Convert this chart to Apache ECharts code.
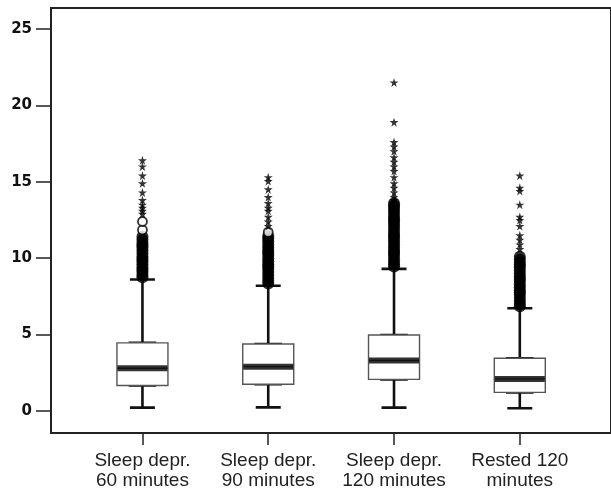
<!DOCTYPE html>
<html>
<head>
<meta charset="utf-8">
<script src="https://cdn.jsdelivr.net/npm/echarts@6/dist/echarts.min.js"></script>
<style>
  html, body { margin: 0; padding: 0; background: #fff; }
  #main { width: 611px; height: 492px; }
</style>
</head>
<body>
<div id="main"></div>
<script>
// groups along the x axis
var categories = ['Sleep depr.\n60 minutes', 'Sleep depr.\n90 minutes', 'Sleep depr.\n120 minutes', 'Rested 120\nminutes']
var yTicks = [0, 5, 10, 15, 20, 25]

// [min, Q1, median, Q3, max]
var boxStats = [
  [0.22, 1.67, 2.8, 4.46, 8.6],
  [0.24, 1.75, 2.9, 4.38, 8.2],
  [0.22, 2.07, 3.3, 4.97, 9.3],
  [0.18, 1.22, 2.1, 3.45, 6.72]
]

// dense outliers (drawn as a solid column of circles)
var denseOutliers = [
  [8.75, 8.9, 9.1, 9.25, 9.4, 9.6, 9.8, 9.95, 10.1, 10.3, 10.5, 10.7, 10.85, 11.0, 11.2, 11.4],
  [8.35, 8.5, 8.7, 8.9, 9.1, 9.3, 9.45, 9.6, 9.8, 10.0, 10.2, 10.35, 10.5, 10.7, 10.9, 11.1, 11.3, 11.45],
  [9.45, 9.6, 9.8, 10.0, 10.2, 10.35, 10.5, 10.7, 10.9, 11.1, 11.3, 11.45, 11.6, 11.8, 12.0, 12.2, 12.4, 12.55, 12.7, 12.9, 13.1, 13.3, 13.45, 13.6],
  [6.85, 7.0, 7.2, 7.4, 7.6, 7.75, 7.9, 8.1, 8.3, 8.5, 8.65, 8.8, 9.0, 9.2, 9.4, 9.55, 9.7, 9.9, 10.1]
]
// separate open circles
var circleOutliers = [
  [11.85, 12.4],
  [11.7],
  [],
  []
]
// extreme values (stars)
var starOutliers = [
  [16.4, 16.0, 15.4, 14.9, 14.3, 13.8, 13.5, 13.3, 13.1, 12.9],
  [15.3, 15.05, 14.5, 14.0, 13.6, 13.3, 13.1, 12.7, 12.4, 12.1],
  [21.5, 18.9, 17.6, 17.3, 17.0, 16.6, 16.3, 16.0, 15.7, 15.3, 14.9, 14.6, 14.3, 14.0, 13.8],
  [15.4, 14.6, 14.4, 13.5, 12.7, 12.5, 12.1, 11.5, 11.2, 10.9, 10.6]
]

var starPath = 'path://M50,0 L61,35 L98,35 L68,57 L79,91 L50,70 L21,91 L32,57 L2,35 L39,35 Z'

function toPoints (lists) {
  var pts = []
  lists.forEach(function (vals, i) {
    vals.forEach(function (v) { pts.push([i, v]) })
  })
  return pts
}

// whiskers: narrow box, black thick lines
var whiskerData = boxStats.map(function (s, i) { return [i].concat(s) })
// body: wide box, whiskers collapsed onto the box edges
var bodyData = boxStats.map(function (s, i) { return [i, s[1], s[1], s[2], s[3], s[3]] })
var medianData = boxStats.map(function (s, i) { return [i, s[2]] })

var xMin = -0.727
var xMax = 3.725

var chart = echarts.init(document.getElementById('main'))
var option = {
  backgroundColor: '#fff',
  animation: false,
  grid: {
    left: 51,
    right: -3,
    top: 8,
    bottom: 59,
    show: true,
    borderColor: '#222',
    borderWidth: 2
  },
  xAxis: [{
    type: 'value',
    min: xMin,
    max: xMax,
    splitLine: { show: false },
    axisLine: { show: true, onZero: false, lineStyle: { color: '#222', width: 2 } },
    axisTick: {
      show: true,
      customValues: [0, 1, 2, 3],
      length: 12,
      lineStyle: { color: '#222', width: 1.5 }
    },
    axisLabel: {
      customValues: [0, 1, 2, 3],
      formatter: function (v) { return categories[Math.round(v)] },
      margin: 18,
      color: '#222',
      fontFamily: 'Liberation Sans',
      fontSize: 19,
      lineHeight: 20
    }
  }, {
    // second copy of the axis so the two box layers are not placed side by side
    type: 'value',
    min: xMin,
    max: xMax,
    show: false
  }],
  yAxis: {
    type: 'value',
    min: -1.44,
    max: 26.37,
    splitLine: { show: false },
    axisLine: { show: true, onZero: false, lineStyle: { color: '#222', width: 2 } },
    axisTick: {
      show: true,
      customValues: yTicks,
      length: 15,
      lineStyle: { color: '#222', width: 1.5 }
    },
    axisLabel: {
      customValues: yTicks,
      margin: 19,
      color: '#111',
      fontFamily: 'DejaVu Sans',
      fontWeight: 'bold',
      fontSize: 15
    }
  },
  series: [
    {
      type: 'boxplot',
      data: whiskerData,
      boxWidth: [25, 25],
      z: 2,
      itemStyle: { color: '#fff', borderColor: '#111', borderWidth: 2.6 }
    },
    {
      type: 'boxplot',
      xAxisIndex: 1,
      data: bodyData,
      boxWidth: [51, 51],
      z: 3,
      itemStyle: { color: '#fff', borderColor: '#555', borderWidth: 1.4 }
    },
    {
      type: 'scatter',
      data: medianData,
      symbol: 'rect',
      symbolSize: [50, 6],
      z: 4,
      itemStyle: { color: '#000' }
    },
    {
      type: 'scatter',
      data: toPoints(denseOutliers),
      symbol: 'circle',
      symbolSize: 12,
      z: 5,
      itemStyle: { color: '#000' }
    },
    {
      type: 'scatter',
      data: toPoints(circleOutliers),
      symbol: 'circle',
      symbolSize: 9,
      z: 5,
      itemStyle: { color: '#fff', borderColor: '#000', borderWidth: 1.8 }
    },
    {
      type: 'scatter',
      data: toPoints(starOutliers),
      symbol: starPath,
      symbolSize: 9,
      z: 6,
      itemStyle: { color: '#000' }
    }
  ]
}
chart.setOption(option)
</script>
</body>
</html>
